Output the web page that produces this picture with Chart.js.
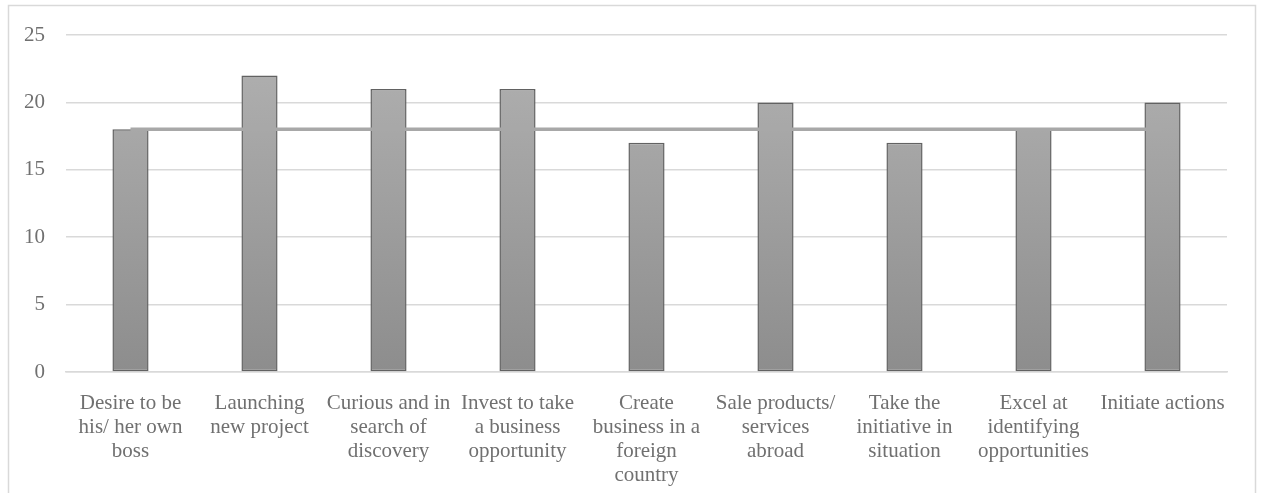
<!DOCTYPE html>
<html>
<head>
<meta charset="utf-8">
<script src="https://cdn.jsdelivr.net/npm/chart.js@4"></script>
<style>
  html, body { margin: 0; padding: 0; background: #fff; }
  #wrap { position: absolute; left: 0; top: 0; width: 1262px; height: 493px; }
</style>
</head>
<body>
<div id="wrap"><canvas id="chart" width="1262" height="493"></canvas></div>
<script>
const categories = [
    ['Desire to be', 'his/ her own', 'boss'],
    ['Launching', 'new project'],
    ['Curious and in', 'search of', 'discovery'],
    ['Invest to take', 'a business', 'opportunity'],
    ['Create', 'business in a', 'foreign', 'country'],
    ['Sale products/', 'services', 'abroad'],
    ['Take the', 'initiative in', 'situation'],
    ['Excel at', 'identifying', 'opportunities'],
    ['Initiate actions']
];
const barValues = [18, 22, 21, 21, 17, 20, 17, 18, 20];
const lineValues = [18, 18, 18, 18, 18, 18, 18, 18, 18];
const yTicks = [0, 5, 10, 15, 20, 25];

const textColor = '#707070';
const gridColor = '#d9d9d9';
const font = { family: '"Liberation Serif", "Times New Roman", serif', size: 21, lineHeight: 1.15 };

// outer frame like the office chart border
const framePlugin = {
    id: 'frame',
    beforeDraw(chart) {
        const ctx = chart.ctx;
        ctx.save();
        ctx.fillStyle = '#fff';
        ctx.fillRect(0, 0, chart.width, chart.height);
        ctx.strokeStyle = gridColor;
        ctx.lineWidth = 1.5;
        ctx.strokeRect(8.5, 5.5, 1247, 500);
        ctx.restore();
    }
};

function barFill(context) {
    const area = context.chart.chartArea;
    if (!area) return '#9c9c9c';
    const g = context.chart.ctx.createLinearGradient(0, area.top, 0, area.bottom);
    g.addColorStop(0, '#b2b2b2');
    g.addColorStop(1, '#8d8d8d');
    return g;
}

new Chart(document.getElementById('chart'), {
    data: {
        labels: categories,
        datasets: [{
            type: 'line',
            label: 'Average',
            data: lineValues,
            borderColor: '#a8a8a8',
            borderWidth: 3.5,
            pointRadius: 0,
            fill: false,
            order: 0
        }, {
            type: 'bar',
            label: 'Score',
            data: barValues,
            backgroundColor: barFill,
            borderColor: '#626262',
            borderWidth: 1.5,
            borderSkipped: false,
            categoryPercentage: 1,
            barPercentage: 0.28,
            order: 1
        }]
    },
    options: {
        responsive: false,
        animation: false,
        layout: { padding: { left: 8, right: 35, top: 35, bottom: 0 } },
        plugins: {
            legend: { display: false },
            tooltip: { enabled: false }
        },
        scales: {
            x: {
                grid: { display: false },
                border: { color: gridColor, width: 1.5 },
                ticks: {
                    color: textColor,
                    font: font,
                    padding: 11,
                    maxRotation: 0,
                    minRotation: 0,
                    autoSkip: false
                },
                afterFit(axis) { axis.height = 121; }
            },
            y: {
                min: 0,
                max: 25,
                afterBuildTicks(axis) { axis.ticks = yTicks.map(v => ({ value: v })); },
                grid: { color: gridColor, lineWidth: 1.5, drawTicks: false },
                border: { display: false },
                ticks: {
                    color: textColor,
                    font: font,
                    padding: 21
                },
                afterFit(axis) { axis.width = 58; }
            }
        }
    },
    plugins: [framePlugin]
});
</script>
</body>
</html>
